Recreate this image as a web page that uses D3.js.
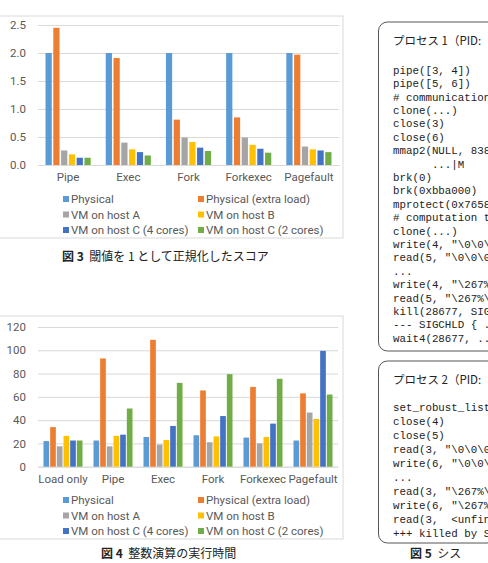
<!DOCTYPE html>
<html>
<head>
<meta charset="utf-8">
<script src="https://cdn.jsdelivr.net/npm/d3@7"></script>
<style>
  body { margin: 0; background: #fff; }
  svg { display: block; }
</style>
</head>
<body>
<svg id="page" width="488" height="563"></svg>
<script>
const seriesNames = ["Physical", "Physical (extra load)", "VM on host A", "VM on host B", "VM on host C (4 cores)", "VM on host C (2 cores)"];
const seriesColors = ["#5b9bd5", "#ed7d31", "#a5a5a5", "#ffc000", "#4472c4", "#70ad47"];

// fig 3: normalized score
const scoreCategories = ["Pipe", "Exec", "Fork", "Forkexec", "Pagefault"];
const scorePhysical      = [2.0, 2.0, 2.0, 2.0, 2.0];
const scorePhysicalLoad  = [2.45, 1.91, 0.81, 0.85, 1.97];
const scoreHostA         = [0.26, 0.40, 0.49, 0.49, 0.33];
const scoreHostB         = [0.19, 0.28, 0.41, 0.36, 0.28];
const scoreHostC4        = [0.13, 0.23, 0.31, 0.29, 0.26];
const scoreHostC2        = [0.13, 0.17, 0.25, 0.22, 0.23];
const scoreTicks = [0, 0.5, 1.0, 1.5, 2.0, 2.5];

// fig 4: integer computation time
const timeCategories = ["Load only", "Pipe", "Exec", "Fork", "Forkexec", "Pagefault"];
const timePhysical     = [22, 22.5, 25.5, 27, 25, 22.5];
const timePhysicalLoad = [34, 93, 109, 65.5, 68.5, 63];
const timeHostA        = [17.5, 17.5, 19, 21, 20, 46.5];
const timeHostB        = [26.5, 26.5, 23, 26, 25.5, 41];
const timeHostC4       = [22.5, 27.5, 35, 43.5, 37, 99.5];
const timeHostC2       = [22.5, 50, 72, 79.5, 75.5, 62];
const timeTicks = [0, 20, 40, 60, 80, 100, 120];

// fig 5: strace listing (cut off at the page edge)
const proc1Title = "プロセス 1（PID:";
const proc1Lines = [
  "pipe([3, 4])", "pipe([5, 6])", "# communication", "clone(...)", "close(3)", "close(6)",
  "mmap2(NULL, 838", "      ...|M", "brk(0)", "brk(0xbba000)", "mprotect(0x7658",
  "# computation t", "clone(...)", "write(4, \"\\0\\0\\", "read(5, \"\\0\\0\\0", "...",
  "write(4, \"\\267%", "read(5, \"\\267%\\", "kill(28677, SIG", "--- SIGCHLD { .", "wait4(28677, .."
];
const proc2Title = "プロセス 2（PID:";
const proc2Lines = [
  "set_robust_list", "close(4)", "close(5)", "read(3, \"\\0\\0\\0", "write(6, \"\\0\\0\\",
  "...", "read(3, \"\\267%\\", "write(6, \"\\267%", "read(3,  <unfin", "+++ killed by S"
];

const svg = d3.select("#page");
const labelColor = "#595959";
const gridColor = "#d9d9d9";
const font = "Roboto, 'Liberation Sans', sans-serif";

function drawChart(opts) {
  const g = svg.append("g");
  const series = opts.series;

  g.append("rect")
    .attr("x", -1).attr("y", opts.frameTop)
    .attr("width", 344).attr("height", opts.frameBottom - opts.frameTop)
    .attr("fill", "none").attr("stroke", gridColor);

  const y = d3.scaleLinear().domain(opts.domain).range([opts.y0, opts.yTop]);
  const x0 = d3.scaleBand().domain(opts.categories).range([38, opts.xRight])
    .paddingInner(opts.padInner).paddingOuter(opts.padInner / 2);
  const x1 = d3.scaleBand().domain(d3.range(series.length)).range([0, x0.bandwidth()])
    .paddingInner(opts.barPad);

  const yAxis = d3.axisLeft(y).tickValues(opts.ticks)
    .tickFormat(opts.format)
    .tickSize(-(opts.xRight - 38)).tickPadding(12);
  const ya = g.append("g").attr("transform", "translate(38,0)").call(yAxis);
  ya.select(".domain").remove();
  ya.selectAll("line").attr("stroke", gridColor);
  ya.selectAll("text").attr("fill", labelColor).attr("font-size", 11.5).attr("font-family", font);

  const xAxis = d3.axisBottom(x0).tickSize(0).tickPadding(8);
  const xa = g.append("g").attr("transform", `translate(0,${opts.y0})`).call(xAxis);
  xa.select(".domain").attr("stroke", gridColor);
  xa.selectAll("text").attr("fill", labelColor).attr("font-size", 11.5).attr("font-family", font);

  opts.categories.forEach((c, i) => {
    g.append("g")
      .attr("transform", `translate(${x0(c)},0)`)
      .selectAll("rect")
      .data(series.map((s, k) => ({ k, v: s[i] })))
      .enter()
      .append("rect")
      .attr("x", d => x1(d.k))
      .attr("y", d => y(d.v))
      .attr("width", x1.bandwidth())
      .attr("height", d => y(0) - y(d.v))
      .attr("fill", d => seriesColors[d.k]);
  });

  // legend, two columns
  seriesNames.forEach((name, k) => {
    const lx = k % 2 === 0 ? 63 : 198;
    const ly = opts.legendTop + Math.floor(k / 2) * 15.5;
    g.append("rect")
      .attr("x", lx).attr("y", ly - 3)
      .attr("width", 6).attr("height", 6)
      .attr("fill", seriesColors[k]);
    g.append("text")
      .attr("x", lx + 8).attr("y", ly)
      .attr("dy", "0.35em")
      .attr("fill", labelColor)
      .attr("font-size", 11.5)
      .attr("font-family", font)
      .text(name);
  });

  return g;
}

drawChart({
  categories: scoreCategories,
  series: [scorePhysical, scorePhysicalLoad, scoreHostA, scoreHostB, scoreHostC4, scoreHostC2],
  domain: [0, 2.5], ticks: scoreTicks, format: d3.format(".1f"),
  y0: 165, yTop: 25, xRight: 339,
  frameTop: 16, frameBottom: 238,
  padInner: 0.25, barPad: 0.2,
  legendTop: 199
});

const fig4 = drawChart({
  categories: timeCategories,
  series: [timePhysical, timePhysicalLoad, timeHostA, timeHostB, timeHostC4, timeHostC2],
  domain: [0, 120], ticks: timeTicks, format: d3.format("d"),
  y0: 466.7, yTop: 327, xRight: 338,
  frameTop: 316, frameBottom: 539,
  padInner: 0.22, barPad: 0.15,
  legendTop: 500
});

// y title of fig 4, only its edge shows at the page border
fig4.append("text")
  .attr("transform", "translate(-3,366) rotate(-90)")
  .attr("text-anchor", "middle")
  .attr("fill", labelColor)
  .attr("font-size", 11.5)
  .attr("font-family", font)
  .text("(秒)");

const cjk = "'Noto Sans CJK JP', sans-serif";

function caption(x, y, num, rest) {
  const t = svg.append("text")
    .attr("x", x).attr("y", y).attr("dy", "0.35em")
    .attr("font-family", cjk).attr("font-size", 12).attr("fill", "#222")
    .attr("xml:space", "preserve");
  t.append("tspan").attr("font-weight", "bold").text(num);
  t.append("tspan").text(rest);
}

caption(62, 257, "図 3", "  閾値を 1 として正規化したスコア");
caption(101, 554, "図 4", "  整数演算の実行時間");
caption(410, 554, "図 5", "  シス");

function codeBox(top, bottom, title, lines, firstLine, step) {
  svg.append("rect")
    .attr("x", 378.5).attr("y", top)
    .attr("width", 200).attr("height", bottom - top)
    .attr("rx", 9)
    .attr("fill", "none").attr("stroke", "#555").attr("stroke-width", 1);
  svg.append("text")
    .attr("x", 393).attr("y", top + 19).attr("dy", "0.35em")
    .attr("font-family", cjk).attr("font-size", 11.5).attr("fill", "#222")
    .text(title);
  svg.append("g").selectAll("text")
    .data(lines)
    .enter()
    .append("text")
    .attr("x", 393)
    .attr("y", (d, i) => firstLine + i * step)
    .attr("dy", "0.35em")
    .attr("xml:space", "preserve")
    .attr("font-family", "'Liberation Mono', monospace")
    .attr("font-size", 10.8)
    .attr("fill", "#222")
    .text(d => d);
}

codeBox(22, 351, proc1Title, proc1Lines, 70, 13.4);
codeBox(361, 543, proc2Title, proc2Lines, 407, 14);
</script>
</body>
</html>
